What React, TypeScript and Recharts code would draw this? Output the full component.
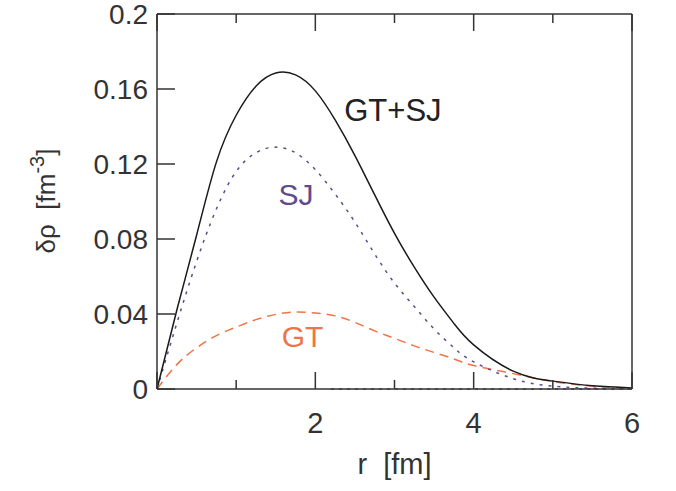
import React from 'react'
import {
  LineChart,
  Line,
  XAxis,
  YAxis,
  ReferenceDot,
  ReferenceLine,
} from 'recharts'

// radius grid [fm] shared by all curves
const rValues = [0, 0.25, 0.5, 0.75, 1, 1.25, 1.5, 1.75, 2, 2.25, 2.5, 2.75, 3, 3.25, 3.5, 3.75, 4, 4.5, 5, 5.5, 6]
const totalValues = [0, 0.042, 0.082, 0.121, 0.146, 0.1615, 0.1685, 0.1675, 0.159, 0.1435, 0.1245, 0.1035, 0.083, 0.065, 0.049, 0.035, 0.0235, 0.0095, 0.0042, 0.0017, 0.0006]
const sjValues = [0, 0.035, 0.068, 0.096, 0.116, 0.126, 0.129, 0.126, 0.117, 0.104, 0.089, 0.072, 0.0565, 0.044, 0.032, 0.022, 0.0145, 0.0055, 0.0015, 0.0004, 0.0001]
const gtValues = [0, 0.013, 0.022, 0.0285, 0.033, 0.037, 0.0398, 0.041, 0.0405, 0.039, 0.0355, 0.031, 0.027, 0.023, 0.0195, 0.016, 0.0125, 0.0082, 0.004, 0.0016, 0.0004]

const xTicks = [0, 1, 2, 3, 4, 5, 6]
const yTicks = [0, 0.04, 0.08, 0.12, 0.16, 0.2]
const zeroSegment = [2.2, 6]

const data = rValues.map((r, i) => ({
  r,
  total: totalValues[i],
  sj: sjValues[i],
  gt: gtValues[i],
}))

const FONT = '"Liberation Sans", Arial, Helvetica, sans-serif'
const INK = '#333333'
const SJ_COLOR = '#5e4b8c'
const GT_COLOR = '#ef7445'

const BottomTick = (props: any) => {
  const { x, y, payload } = props
  const v = payload.value
  const major = v % 2 === 0
  return (
    <g>
      <line x1={x} y1={y} x2={x} y2={y - (major ? 17 : 9)} stroke={INK} strokeWidth={1.5} />
      {major && v !== 0 && (
        <text x={x} y={y + 44} textAnchor="middle" fill={INK} fontSize={29} fontFamily={FONT}>
          {v}
        </text>
      )}
    </g>
  )
}

const TopTick = (props: any) => {
  const { x, y, payload } = props
  const major = payload.value % 2 === 0
  return <line x1={x} y1={y} x2={x} y2={y + (major ? 17 : 9)} stroke={INK} strokeWidth={1.5} />
}

const LeftTick = (props: any) => {
  const { x, y, payload } = props
  return (
    <g>
      <line x1={x} y1={y} x2={x + 18} y2={y} stroke={INK} strokeWidth={1.5} />
      <text x={x - 9} y={y + 10} textAnchor="end" fill={INK} fontSize={28} fontFamily={FONT}>
        {String(payload.value)}
      </text>
    </g>
  )
}

const RightTick = (props: any) => {
  const { x, y } = props
  return <line x1={x} y1={y} x2={x - 18} y2={y} stroke={INK} strokeWidth={1.5} />
}

const XTitle = (props: any) => {
  const { x, y, width } = props.viewBox
  return (
    <text x={x + width / 2} y={y + 85} textAnchor="middle" fill={INK} fontSize={29} fontFamily={FONT} xmlSpace="preserve">
      r  [fm]
    </text>
  )
}

const YTitle = () => {
  const cx = 55
  const cy = 201
  return (
    <text
      x={cx}
      y={cy}
      transform={`rotate(-90 ${cx} ${cy})`}
      textAnchor="middle"
      fill={INK}
      fontSize={26}
      fontFamily={FONT}
      xmlSpace="preserve"
    >
      δρ  [fm<tspan dy={-11} fontSize={20}>-3</tspan><tspan dy={11}>]</tspan>
    </text>
  )
}

export default function App() {
  return (
    <div style={{ position: 'absolute', left: 0, top: 0, background: '#fff' }}>
      <LineChart
        width={676}
        height={491}
        data={data}
        margin={{ top: 0, right: 0, left: 0, bottom: 0 }}
      >
        <XAxis
          xAxisId="bottom"
          dataKey="r"
          type="number"
          domain={[0, 6]}
          ticks={xTicks}
          interval={0}
          height={102}
          tickSize={0}
          tickMargin={0}
          tickLine={false}
          axisLine={{ stroke: INK, strokeWidth: 1.5 }}
          tick={<BottomTick />}
          label={{ content: XTitle }}
        />
        <XAxis
          xAxisId="top"
          orientation="top"
          dataKey="r"
          type="number"
          domain={[0, 6]}
          ticks={xTicks}
          interval={0}
          height={14}
          tickSize={0}
          tickMargin={0}
          tickLine={false}
          axisLine={{ stroke: INK, strokeWidth: 1.5 }}
          tick={<TopTick />}
        />
        <YAxis
          yAxisId="left"
          type="number"
          domain={[0, 0.2]}
          ticks={yTicks}
          interval={0}
          width={157}
          tickSize={0}
          tickMargin={0}
          tickLine={false}
          axisLine={{ stroke: INK, strokeWidth: 1.5 }}
          tick={<LeftTick />}
          label={{ content: YTitle }}
        />
        <YAxis
          yAxisId="right"
          orientation="right"
          type="number"
          domain={[0, 0.2]}
          ticks={yTicks}
          interval={0}
          width={44}
          tickSize={0}
          tickMargin={0}
          tickLine={false}
          axisLine={{ stroke: INK, strokeWidth: 1.5 }}
          tick={<RightTick />}
        />
        <ReferenceLine
          xAxisId="bottom"
          yAxisId="left"
          segment={[{ x: zeroSegment[0], y: 0 }, { x: zeroSegment[1], y: 0 }]}
          stroke={SJ_COLOR}
          strokeWidth={1.5}
          strokeDasharray="3 5"
        />
        <Line
          xAxisId="bottom"
          yAxisId="left"
          type="natural"
          dataKey="gt"
          stroke={GT_COLOR}
          strokeWidth={1.5}
          strokeDasharray="9 6"
          dot={false}
          isAnimationActive={false}
        />
        <Line
          xAxisId="bottom"
          yAxisId="left"
          type="natural"
          dataKey="sj"
          stroke={SJ_COLOR}
          strokeWidth={1.5}
          strokeDasharray="3 6"
          dot={false}
          isAnimationActive={false}
        />
        <Line
          xAxisId="bottom"
          yAxisId="left"
          type="natural"
          dataKey="total"
          stroke="#1a1a1a"
          strokeWidth={1.5}
          dot={false}
          isAnimationActive={false}
        />
        <ReferenceDot
          xAxisId="bottom"
          yAxisId="left"
          x={2.98}
          y={0.149}
          r={0}
          stroke="none"
          label={{ value: 'GT+SJ', position: 'center', fill: '#222', fontSize: 31, fontFamily: FONT }}
        />
        <ReferenceDot
          xAxisId="bottom"
          yAxisId="left"
          x={1.755}
          y={0.104}
          r={0}
          stroke="none"
          label={{ value: 'SJ', position: 'center', fill: SJ_COLOR, fontSize: 30, fontFamily: FONT }}
        />
        <ReferenceDot
          xAxisId="bottom"
          yAxisId="left"
          x={1.838}
          y={0.028}
          r={0}
          stroke="none"
          label={{ value: 'GT', position: 'center', fill: GT_COLOR, fontSize: 30, fontFamily: FONT }}
        />
      </LineChart>
    </div>
  )
}
